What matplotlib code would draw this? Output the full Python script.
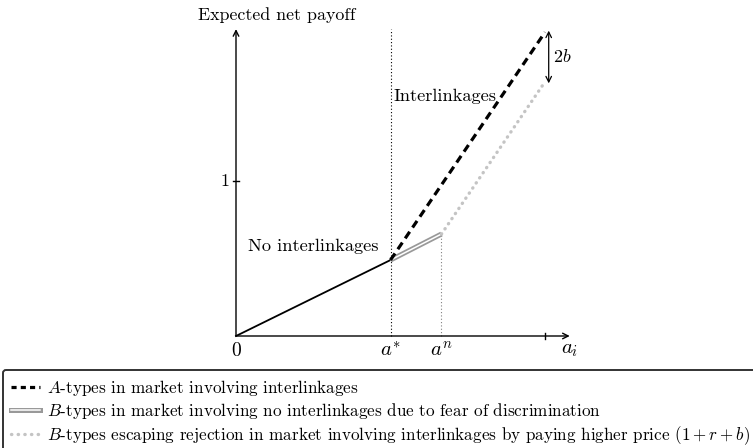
import matplotlib
matplotlib.use("Agg")
import matplotlib.pyplot as plt
from matplotlib.lines import Line2D

plt.rcParams["font.family"] = "cmr10"
plt.rcParams["mathtext.fontset"] = "cm"
plt.rcParams["axes.formatter.use_mathtext"] = True

# Data (x = a_i, y = expected net payoff)
a_star = 0.5
a_n = 0.665
no_link_x = [0, a_star]
no_link_y = [0, 0.49]
b_nolink_x = [a_star, a_n]
b_nolink_y = [0.49, 0.658]
a_link_x = [a_star, 1.0]
a_link_y = [0.49, 1.96]
b_link_x = [a_n, 1.0]
b_link_y = [0.658, 1.64]

fig = plt.figure(figsize=(7.53, 4.48), dpi=100)
ax = fig.add_axes([0, 0, 1, 1])
ax.set_xlim(-236 / 309, (753 - 236) / 309)
ax.set_ylim(-112 / 155, 336 / 155)
ax.axis("off")

# axes arrows
arr = dict(arrowstyle="->", lw=1.0, color="black", shrinkA=0, shrinkB=0)
ax.annotate("", xy=(1.08, 0), xytext=(0, 0), arrowprops=arr)
ax.annotate("", xy=(0, 1.98), xytext=(0, 0), arrowprops=arr)
ax.plot([1.0, 1.0], [-0.02, 0.02], color="black", lw=1.0)
ax.plot([-0.01, 0.01], [1.0, 1.0], color="black", lw=1.0)

# vertical guides
ax.plot([a_star, a_star], [0, 1.98], color="black", lw=0.8, ls=(0, (1, 2)))
ax.plot([a_n, a_n], [0, b_nolink_y[1]], color="gray", lw=0.8, ls=(0, (1, 2)))

# curves
ax.plot(no_link_x, no_link_y, color="black", lw=1.3)
ax.plot(b_nolink_x, b_nolink_y, color="#999999", lw=3.6, solid_capstyle="butt")
ax.plot(b_nolink_x, b_nolink_y, color="white", lw=1.1, solid_capstyle="butt")
ax.plot(b_link_x, b_link_y, color="#c4c4c4", lw=2.4, ls=(0, (0.1, 1.75)),
        dash_capstyle="round")
ax.plot(a_link_x, a_link_y, color="black", lw=2.3, ls=(0, (2.5, 1.6)))

# 2b arrow
ax.annotate("", xy=(1.012, a_link_y[1] + 0.01), xytext=(1.012, b_link_y[1] - 0.01),
            arrowprops=dict(arrowstyle="<->", lw=0.9, color="black",
                            shrinkA=0, shrinkB=0))
ax.text(1.025, 1.80, "$2b$", fontsize=13, va="center", ha="left")

# labels
ax.text(-0.124, 2.07, "Expected net payoff", fontsize=12.9, ha="left", va="center")
ax.text(-0.02, 1.0, "1", fontsize=13, ha="right", va="center")
ax.text(0, -0.04, "0", fontsize=14, ha="center", va="top")
ax.text(a_star, -0.03, "$a^{*}$", fontsize=15, ha="center", va="top")
ax.text(a_n, -0.03, "$a^{n}$", fontsize=15, ha="center", va="top")
ax.text(1.08, -0.03, "$a_i$", fontsize=15, ha="center", va="top")
ax.text(a_star + 0.01, 1.548, "Interlinkages", fontsize=13.2, ha="left", va="center")
ax.text(a_star - 0.04, 0.58, "No interlinkages", fontsize=13.2, ha="right", va="center")

# legend
h1 = Line2D([], [], color="black", lw=2.3, ls=(0, (1.6, 1.3)))
h2a = Line2D([], [], color="#999999", lw=3.6)
h2b = Line2D([], [], color="white", lw=1.1)
h3 = Line2D([], [], color="#c4c4c4", lw=2.4, ls=(0, (0.1, 1.9)), dash_capstyle="round")
leg = fig.legend([h1, (h2a, h2b), h3],
                 ["$A$-types in market involving interlinkages",
                  "$B$-types in market involving no interlinkages due to fear of discrimination",
                  "$B$-types escaping rejection in market involving interlinkages by paying higher price $(1+r+b)$"],
                 loc="upper left", bbox_to_anchor=(3 / 753, 1 - 370 / 448),
                 fontsize=12.3, frameon=True, fancybox=True, handlelength=1.7,
                 handletextpad=0.45, borderpad=0.45, labelspacing=0.2,
                 borderaxespad=0)
leg.get_frame().set_edgecolor("black")
leg.get_frame().set_linewidth(1.4)

fig.savefig("out.png", dpi=100)
